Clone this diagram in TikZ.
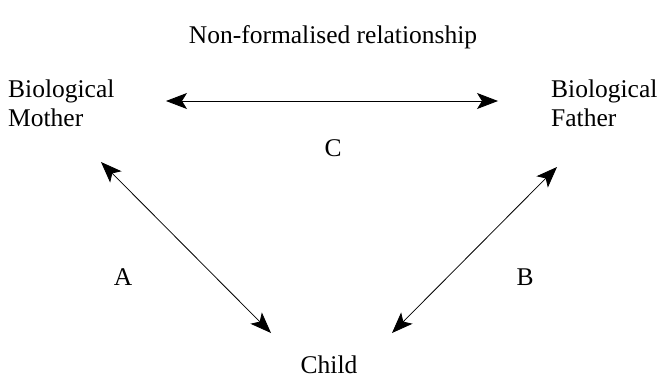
\documentclass[tikz,border=0pt]{standalone}
\usepackage{fontspec}
\setmainfont{Liberation Serif}
\usetikzlibrary{arrows.meta}
\begin{document}
\begin{tikzpicture}[x=1pt,y=-1pt,
  lbl/.style={inner sep=0pt,font=\fontsize{25.5}{29}\selectfont},
  tip/.tip={Stealth[length=21pt,width=16pt,inset=5pt]},
  rel/.style={line width=0.8pt,tip-tip}]
\useasboundingbox (0,0) rectangle (661,380);
\node[lbl,anchor=base] (title) at (333,43) {Non-formalised relationship};
\node[lbl,anchor=base west,align=left] (mother) at (8,126) {Biological\\Mother};
\node[lbl,anchor=base west,align=left] (father) at (551,126) {Biological\\Father};
\node[lbl,anchor=base] (c) at (333,156) {C};
\node[lbl,anchor=base] (a) at (123,285) {A};
\node[lbl,anchor=base] (b) at (525,285) {B};
\node[lbl,anchor=base] (child) at (329,373) {Child};
\coordinate (cl) at (166,101);
\coordinate (cr) at (498,101);
\coordinate (al) at (101,162);
\coordinate (ar) at (271,333);
\coordinate (bl) at (392,333);
\coordinate (br) at (557,167);
\draw[rel] (cl) -- (cr);
\draw[rel] (al) -- (ar);
\draw[rel] (br) -- (bl);
\end{tikzpicture}
\end{document}
